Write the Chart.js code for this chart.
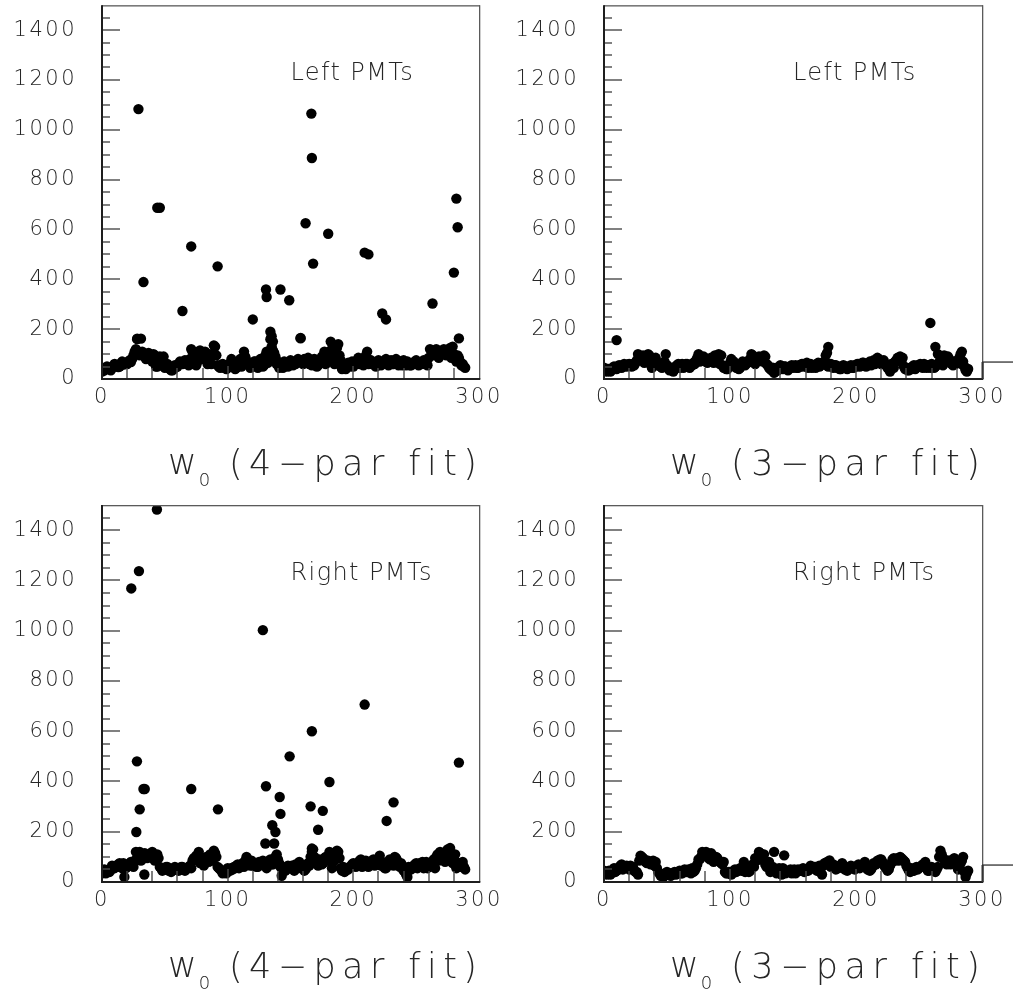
<!DOCTYPE html>
<html>
<head>
<meta charset="utf-8">
<script src="https://cdn.jsdelivr.net/npm/chart.js@4.4.1/dist/chart.umd.min.js"></script>
<style>
  html, body { margin: 0; padding: 0; background: #fff; width: 1013px; height: 991px; overflow: hidden; }
  canvas { position: absolute; }
</style>
</head>
<body>
<canvas id="pLeft4" width="502" height="495" style="left:0;top:0"></canvas>
<canvas id="pLeft3" width="511" height="495" style="left:502px;top:0"></canvas>
<canvas id="pRight4" width="502" height="495" style="left:0;top:496px"></canvas>
<canvas id="pRight3" width="511" height="495" style="left:502px;top:496px"></canvas>
<script>
// Baseline band, odd channels (1, 3, 5, ... 289)
const bandLeft4 = [
  38, 42, 45, 35, 50, 55, 48, 62, 58, 65,
  70, 68, 95, 120, 105, 100, 95, 80, 105, 90,
  100, 50, 75, 60, 90, 55, 45, 35, 40, 48,
  60, 65, 70, 62, 55, 120, 60, 55, 110, 80,
  100, 75, 90, 60, 135, 95, 50, 55, 45, 40,
  60, 80, 55, 45, 60, 50, 110, 75, 55, 60,
  70, 50, 65, 60, 55, 110, 85, 130, 105, 60,
  45, 50, 70, 55, 65, 60, 70, 65, 75, 70,
  80, 75, 60, 55, 80, 50, 65, 90, 110, 70,
  75, 95, 60, 125, 95, 40, 45, 60, 50, 70,
  65, 75, 60, 80, 70, 110, 75, 60, 55, 70,
  65, 60, 75, 65, 70, 60, 75, 65, 70, 55,
  60, 70, 55, 65, 70, 60, 65, 70, 60, 55,
  120, 100, 110, 100, 95, 110, 100, 115, 125, 130,
  80, 95, 70, 60, 45
];
const bandLeft3 = [
  35, 40, 30, 45, 42, 50, 48, 55, 52, 58,
  55, 60, 65, 100, 75, 95, 85, 100, 60, 55,
  85, 65, 50, 55, 100, 45, 40, 30, 50, 60,
  55, 45, 60, 50, 55, 65, 75, 100, 85, 90,
  70, 80, 85, 65, 80, 100, 95, 45, 40, 50,
  80, 70, 45, 40, 55, 60, 65, 75, 100, 85,
  70, 90, 75, 95, 60, 45, 35, 25, 45, 40,
  45, 50, 40, 45, 55, 50, 45, 55, 60, 50,
  65, 55, 45, 55, 60, 50, 65, 70, 55, 60,
  50, 55, 45, 40, 50, 45, 40, 50, 45, 55,
  60, 50, 65, 55, 60, 70, 65, 60, 85, 75,
  70, 60, 45, 30, 55, 70, 85, 90, 85, 40,
  35, 45, 50, 40, 55, 60, 45, 50, 55, 45,
  55, 50, 60, 75, 55, 85, 90, 70, 55, 60,
  75, 70, 70, 35, 40
];
const bandRight4 = [
  45, 35, 40, 50, 55, 65, 70, 60, 75, 55,
  70, 80, 60, 120, 100, 85, 110, 100, 105, 115,
  110, 100, 95, 55, 50, 60, 45, 40, 50, 55,
  45, 60, 55, 50, 60, 55, 95, 105, 120, 85,
  65, 100, 80, 95, 125, 100, 55, 45, 40, 35,
  45, 55, 60, 65, 55, 70, 60, 100, 70, 85,
  75, 60, 80, 70, 75, 55, 85, 70, 90, 110,
  75, 25, 50, 60, 55, 65, 45, 60, 80, 55,
  45, 60, 65, 120, 100, 75, 90, 70, 95, 85,
  120, 55, 110, 125, 95, 45, 40, 55, 60, 70,
  65, 75, 85, 60, 80, 70, 75, 85, 65, 90,
  105, 80, 55, 65, 90, 75, 100, 85, 60, 65,
  55, 20, 50, 60, 70, 55, 75, 80, 65, 55,
  70, 65, 55, 110, 120, 95, 80, 130, 135, 75,
  110, 70, 60, 80, 50
];
const bandRight3 = [
  35, 40, 30, 45, 40, 55, 65, 50, 60, 55,
  65, 60, 40, 30, 105, 95, 80, 85, 70, 85,
  80, 40, 25, 20, 35, 30, 25, 35, 30, 40,
  35, 45, 40, 50, 35, 40, 55, 90, 100, 110,
  120, 95, 115, 80, 100, 85, 75, 80, 35, 40,
  30, 45, 40, 50, 45, 80, 45, 40, 55, 60,
  85, 120, 100, 110, 60, 80, 45, 120, 35, 55,
  30, 106, 40, 45, 35, 50, 40, 45, 50, 40,
  45, 50, 55, 60, 45, 65, 30, 75, 80, 86,
  70, 60, 55, 65, 75, 50, 45, 60, 55, 50,
  65, 55, 60, 80, 50, 45, 60, 70, 85, 90,
  80, 60, 45, 65, 90, 85, 95, 100, 90, 80,
  55, 40, 45, 55, 50, 60, 70, 80, 45, 55,
  50, 40, 60, 125, 95, 80, 85, 70, 90, 85,
  50, 75, 100, 20, 45
];

// Baseline band, even channels (0, 2, 4, ... 288)
const bandLeft4Even = [
  30, 35, 50, 40, 45, 60, 55, 50, 70, 60,
  60, 75, 80, 110, 160, 95, 110, 90, 85, 100,
  70, 95, 50, 90, 55, 45, 60, 40, 35, 55,
  50, 70, 60, 75, 65, 80, 110, 95, 70, 115,
  85, 110, 60, 100, 95, 130, 55, 45, 60, 50,
  45, 55, 70, 40, 50, 80, 65, 90, 60, 45,
  55, 70, 45, 80, 50, 95, 65, 160, 115, 90,
  70, 55, 45, 60, 50, 75, 55, 60, 80, 165,
  60, 70, 85, 65, 60, 75, 55, 70, 85, 60,
  90, 115, 70, 105, 140, 75, 55, 40, 65, 55,
  50, 60, 85, 65, 55, 95, 60, 75, 65, 50,
  75, 55, 65, 80, 55, 75, 60, 80, 55, 70,
  75, 55, 65, 55, 60, 75, 55, 60, 75, 65,
  85, 115, 95, 120, 85, 105, 120, 95, 110, 85,
  100, 70, 85, 55, 50
];
const bandLeft3Even = [
  45, 30, 40, 35, 50, 40, 55, 45, 60, 50,
  60, 50, 55, 75, 90, 80, 65, 75, 95, 45,
  70, 55, 60, 45, 70, 55, 35, 45, 40, 55,
  45, 60, 50, 60, 45, 55, 60, 85, 70, 80,
  85, 65, 70, 75, 95, 80, 60, 55, 50, 40,
  65, 55, 50, 55, 45, 70, 55, 65, 80, 95,
  60, 75, 85, 70, 90, 55, 40, 45, 30, 35,
  55, 40, 50, 35, 50, 45, 55, 45, 50, 60,
  55, 45, 60, 50, 45, 65, 55, 60, 95, 50,
  60, 45, 55, 50, 40, 55, 50, 45, 55, 45,
  50, 60, 55, 65, 50, 60, 55, 75, 65, 80,
  60, 75, 55, 40, 60, 45, 75, 80, 70, 50,
  45, 35, 40, 55, 45, 50, 55, 60, 45, 55,
  60, 45, 55, 65, 70, 95, 75, 80, 60, 70,
  65, 85, 60, 50, 30
];
const bandRight4Even = [
  35, 50, 45, 40, 65, 55, 60, 75, 55, 70,
  60, 70, 75, 85, 95, 120, 90, 115, 95, 105,
  120, 85, 110, 60, 45, 50, 60, 50, 45, 60,
  55, 50, 60, 45, 55, 65, 85, 95, 100, 75,
  80, 90, 95, 110, 85, 115, 60, 50, 35, 45,
  55, 45, 50, 55, 70, 60, 75, 85, 90, 65,
  65, 70, 60, 75, 85, 70, 75, 90, 70, 100,
  90, 60, 55, 45, 65, 55, 60, 70, 55, 65,
  55, 50, 75, 100, 130, 90, 65, 85, 75, 100,
  95, 110, 80, 90, 120, 55, 60, 45, 50, 60,
  75, 60, 70, 90, 70, 85, 60, 70, 90, 75,
  85, 65, 75, 55, 70, 85, 65, 95, 70, 75,
  45, 30, 60, 50, 65, 75, 60, 70, 55, 80,
  60, 75, 90, 100, 85, 115, 105, 95, 120, 90,
  95, 55, 75, 65, 60
];
const bandRight3Even = [
  45, 30, 45, 35, 55, 45, 50, 70, 55, 65,
  50, 55, 45, 40, 85, 100, 90, 75, 80, 75,
  65, 55, 35, 30, 25, 40, 35, 30, 40, 35,
  45, 35, 50, 40, 45, 55, 45, 70, 90, 120,
  105, 110, 90, 100, 85, 95, 80, 70, 40, 35,
  40, 35, 50, 45, 55, 60, 40, 50, 45, 70,
  95, 100, 115, 90, 70, 60, 40, 60, 50, 40,
  45, 55, 35, 40, 50, 45, 35, 50, 45, 55,
  50, 45, 65, 55, 60, 45, 55, 65, 70, 75,
  60, 70, 50, 55, 65, 60, 55, 50, 65, 60,
  55, 70, 65, 60, 60, 55, 50, 75, 70, 80,
  90, 70, 55, 50, 75, 95, 90, 85, 95, 85,
  65, 45, 55, 45, 60, 55, 65, 70, 55, 45,
  60, 55, 50, 100, 110, 90, 70, 85, 75, 95,
  70, 60, 85, 40, 35
];

// Channels whose fitted w0 falls well above the baseline
const outLeft4X = [28, 31, 29, 33, 44, 46, 64, 71, 92, 120,
  130.5, 131, 134, 135, 136, 142, 149, 158, 162, 166.6,
  167, 168, 180, 182, 209, 212, 223, 226, 263, 280,
  282, 283, 284];
const outLeft4Y = [162, 162, 1083, 389, 687, 687, 273, 532, 452, 239,
  359, 329, 190, 172, 150, 359, 316, 163, 625, 1065,
  887, 463, 583, 150, 507, 500, 263, 239, 303, 427,
  724, 609, 163];
const outLeft3X = [10, 259, 177, 178, 263, 265, 284, 283];
const outLeft3Y = [156, 225, 105, 129, 129, 100, 110, 100];
const outRight4X = [17.8, 43.7, 23.3, 29.4, 27.8, 27.3, 30, 33, 34, 33.7,
  71, 92.3, 128, 130.5, 130, 137, 135.5, 138, 141.4, 142,
  149.3, 167, 166, 167, 172, 175.7, 181, 209, 226.5, 232,
  284];
const outRight4Y = [20, 1482, 1168, 1237, 480, 199, 289, 370, 370, 30,
  370, 289, 1002, 381, 153, 153, 226, 199, 338, 271,
  500, 600, 301, 133, 208, 283, 398, 706, 243, 317,
  475];
const outRight3X = [];
const outRight3Y = [];

// Axis ranges and tick labels
const xRange = [0, 300];
const yRange = [0, 1500];
const xLabelStep = 100;
const yLabelStep = 200;
const channelStep = 2;

const FONT = '"DejaVu Sans", "Liberation Sans", sans-serif';

function toPoints(odd, even, ox, oy) {
  const pts = [];
  even.forEach((v, i) => pts.push({ x: i * channelStep, y: v }));
  odd.forEach((v, i) => pts.push({ x: i * channelStep + 1, y: v }));
  ox.forEach((x, i) => pts.push({ x: x, y: oy[i] }));
  return pts;
}

const framePlugin = {
  id: 'frame',
  beforeDraw(chart) {
    chart.ctx.letterSpacing = '2.5px';
  },
  afterDraw(chart, args, o) {
    const ctx = chart.ctx;
    const a = chart.chartArea;
    const xs = chart.scales.x, ys = chart.scales.y;
    ctx.save();
    ctx.letterSpacing = '0px';
    // inner tick marks
    ctx.fillStyle = '#4a4a4a';
    for (let v = 50; v < yRange[1]; v += 50) {
      const py = Math.round(ys.getPixelForValue(v));
      const len = (v % yLabelStep === 0) ? 18 : 8;
      ctx.fillRect(a.left, py - 0.7, len, 1.4);
    }
    for (let v = 20; v < xRange[1]; v += 20) {
      const px = Math.round(xs.getPixelForValue(v));
      const len = (v % xLabelStep === 0) ? 13 : 11;
      ctx.fillRect(px - 0.7, a.bottom - len, 1.4, len);
    }
    // frame
    ctx.fillStyle = '#5a5a5a';
    ctx.fillRect(a.left, a.top, a.right - a.left + 1, 1.3);
    ctx.fillRect(a.right, a.top, 1.3, a.bottom - a.top);
    ctx.fillStyle = '#1e1e1e';
    ctx.fillRect(a.left - 1, a.top, 2, a.bottom - a.top + 1);
    ctx.fillRect(a.left - 1, a.bottom - 1, a.right - a.left + 2.3, 2);
    if (o.stub) {
      const sy = Math.round(ys.getPixelForValue(68));
      ctx.fillStyle = '#333';
      ctx.fillRect(a.right, sy - 0.6, chart.width - a.right, 1.3);
      ctx.fillRect(a.right - 0.5, sy, 2.2, a.bottom - sy);
    }
    // group label
    ctx.fillStyle = '#262626';
    ctx.textBaseline = 'alphabetic';
    ctx.textAlign = 'left';
    ctx.font = '200 24px ' + FONT;
    ctx.letterSpacing = '1.4px';
    ctx.fillText(o.tag, xs.getPixelForValue(150), ys.getPixelForValue(1200));
    // axis title: w0 (n-par fit)
    const base = a.bottom + 96;
    ctx.letterSpacing = '0px';
    ctx.font = '200 35px ' + FONT;
    ctx.fillText('w', a.left + 66, base - 1);
    const ww = ctx.measureText('w').width;
    ctx.font = '200 18px ' + FONT;
    ctx.fillText('0', a.left + 66 + ww + 2, base + 11);
    const rest = '(' + o.fit + '\u2212par fit)';
    ctx.font = '200 35px ' + FONT;
    const start = a.left + 127, end = a.right - 2;
    const nat = ctx.measureText(rest).width;
    const sp = Math.max(0, (end - start - nat) / (rest.length - 1));
    ctx.letterSpacing = sp.toFixed(2) + 'px';
    ctx.fillText(rest, start, base);
    ctx.restore();
  }
};

const panels = [
  { id: 'pLeft4', odd: bandLeft4, even: bandLeft4Even, ox: outLeft4X, oy: outLeft4Y, tag: 'Left PMTs', fit: '4', top: 3, right: 23, xh: 116, stub: false },
  { id: 'pLeft3', odd: bandLeft3, even: bandLeft3Even, ox: outLeft3X, oy: outLeft3Y, tag: 'Left PMTs', fit: '3', top: 3, right: 31, xh: 116, stub: true },
  { id: 'pRight4', odd: bandRight4, even: bandRight4Even, ox: outRight4X, oy: outRight4Y, tag: 'Right PMTs', fit: '4', top: 9, right: 23, xh: 109, stub: false },
  { id: 'pRight3', odd: bandRight3, even: bandRight3Even, ox: outRight3X, oy: outRight3Y, tag: 'Right PMTs', fit: '3', top: 9, right: 31, xh: 109, stub: true }
];

const tickFont = { family: FONT, size: 21, weight: '200' };
const plainLabel = v => String(v);

panels.forEach(p => {
  new Chart(document.getElementById(p.id), {
    type: 'scatter',
    data: {
      datasets: [{
        data: toPoints(p.odd, p.even, p.ox, p.oy),
        backgroundColor: '#000',
        borderWidth: 0,
        pointRadius: 5.2,
        pointHoverRadius: 5.2
      }]
    },
    options: {
      responsive: false,
      animation: false,
      events: [],
      layout: { padding: { top: p.top, right: p.right, left: 0, bottom: 0 } },
      plugins: {
        legend: { display: false },
        tooltip: { enabled: false },
        frame: { tag: p.tag, fit: p.fit, stub: p.stub }
      },
      scales: {
        x: {
          type: 'linear', min: xRange[0], max: xRange[1],
          grid: { display: false, drawTicks: false },
          border: { display: false },
          ticks: { stepSize: xLabelStep, includeBounds: false, padding: 6, color: '#262626', font: tickFont, maxRotation: 0, autoSkip: false, callback: plainLabel },
          afterFit: s => { s.height = p.xh; s.paddingLeft = 0; s.paddingRight = 0; }
        },
        y: {
          type: 'linear', min: yRange[0], max: yRange[1],
          grid: { display: false, drawTicks: false },
          border: { display: false },
          ticks: { stepSize: yLabelStep, includeBounds: false, padding: 25, color: '#262626', font: tickFont, autoSkip: false, callback: plainLabel },
          afterFit: s => { s.width = 102; s.paddingTop = 0; s.paddingBottom = 0; }
        }
      }
    },
    plugins: [framePlugin]
  });
});
</script>
</body>
</html>
